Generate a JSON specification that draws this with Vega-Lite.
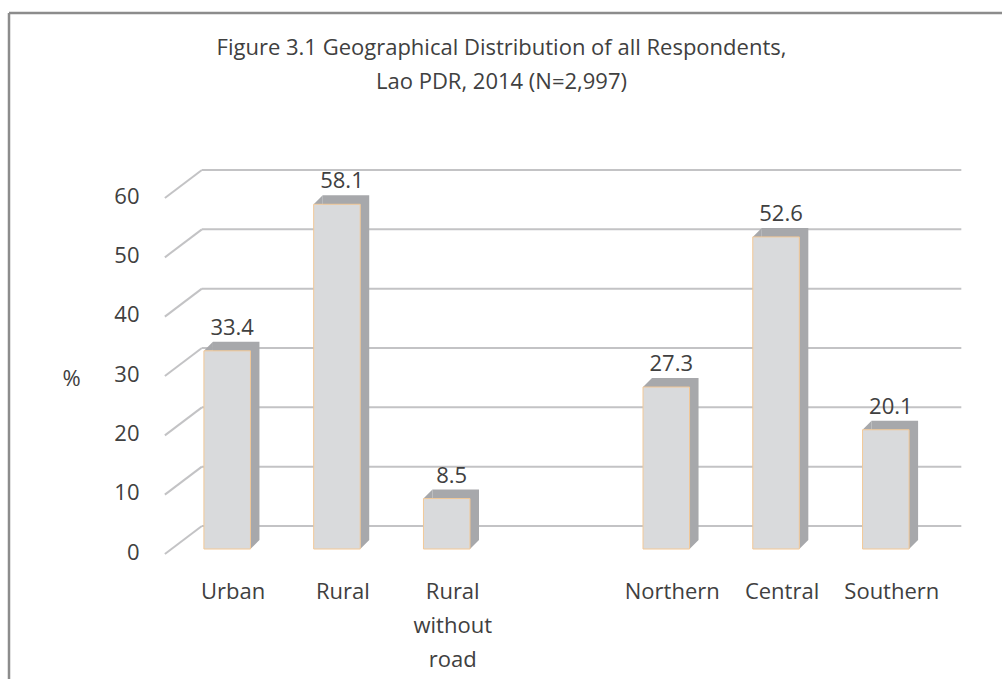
{
  "$schema": "https://vega.github.io/schema/vega-lite/v6.json",
  "width": 993,
  "height": 666,
  "autosize": {"type": "none"},
  "padding": {"left": 9, "top": 13, "right": 0, "bottom": 0},
  "background": "white",
  "title": {
    "text": ["Figure 3.1 Geographical Distribution of all Respondents,", "Lao PDR, 2014 (N=2,997)"],
    "anchor": "middle",
    "frame": "group",
    "orient": "top",
    "baseline": "top",
    "offset": -81,
    "dx": -4,
    "font": "Open Sans",
    "fontSize": 22,
    "fontWeight": "normal",
    "color": "#404040",
    "lineHeight": 34
  },
  "datasets": {
    "bars": [
      {"cat": "Urban", "v": 33.4},
      {"cat": "Rural", "v": 58.1},
      {"cat": "Rural|without|road", "v": 8.5},
      {"cat": "Northern", "v": 27.3},
      {"cat": "Central", "v": 52.6},
      {"cat": "Southern", "v": 20.1}
    ],
    "ticks": [{"t": 0}, {"t": 10}, {"t": 20}, {"t": 30}, {"t": 40}, {"t": 50}, {"t": 60}]
  },
  "layer": [
    {
      "data": {"name": "ticks"},
      "mark": {"type": "rule", "color": "#c3c3c5", "strokeWidth": 2, "xOffset": -25.3, "x2Offset": 75.5, "yOffset": -23, "y2Offset": -23},
      "encoding": {
        "x": {"datum": "Urban", "type": "nominal"},
        "x2": {"datum": "Southern"},
        "y": {"field": "t", "type": "quantitative"},
        "y2": {"field": "t"}
      }
    },
    {
      "data": {"name": "ticks"},
      "mark": {"type": "rule", "color": "#c3c3c5", "strokeWidth": 2, "xOffset": -62.3, "x2Offset": -25.3, "yOffset": 5, "y2Offset": -23},
      "encoding": {
        "x": {"datum": "Urban", "type": "nominal"},
        "x2": {"datum": "Urban"},
        "y": {"field": "t", "type": "quantitative"},
        "y2": {"field": "t"}
      }
    },
    {
      "data": {"name": "bars"},
      "mark": {"type": "bar", "color": "#a7a8ab", "xOffset": 9, "x2Offset": 9, "yOffset": -9, "y2Offset": -9},
      "encoding": {
        "x": {"field": "cat", "type": "nominal"},
        "y": {"field": "v", "type": "quantitative"}
      }
    },
    {
      "data": {"name": "bars"},
      "mark": {"type": "point", "shape": "M -1 1 L 1 -1 L 1 1 Z", "filled": true, "size": 81, "color": "#a7a8ab", "opacity": 1, "xOffset": 4.5, "yOffset": -4.5},
      "encoding": {
        "x": {"field": "cat", "type": "nominal", "bandPosition": 0},
        "y": {"field": "v", "type": "quantitative"}
      }
    },
    {
      "data": {"name": "bars"},
      "mark": {"type": "point", "shape": "M -1 -1 L 1 -1 L -1 1 Z", "filled": true, "size": 81, "color": "#a7a8ab", "opacity": 1, "xOffset": 4.5, "yOffset": -4.5},
      "encoding": {
        "x": {"field": "cat", "type": "nominal", "bandPosition": 1},
        "y": {"datum": 0, "type": "quantitative"}
      }
    },
    {
      "data": {"name": "bars"},
      "mark": {"type": "bar", "color": "#d9dadc", "stroke": "#f2c897", "strokeWidth": 1},
      "encoding": {
        "x": {
          "field": "cat",
          "type": "nominal",
          "sort": null,
          "scale": {
            "domain": ["Urban", "Rural", "Rural|without|road", " ", "Northern", "Central", "Southern"],
            "range": [151, 944],
            "paddingInner": 0.576,
            "paddingOuter": 0.4
          },
          "axis": {
            "title": null,
            "orient": "bottom",
            "offset": -130,
            "domain": false,
            "ticks": false,
            "grid": false,
            "labelAngle": 0,
            "labelAlign": "center",
            "labelPadding": 32,
            "labelOffset": 6,
            "labelFont": "Open Sans",
            "labelFontSize": 22,
            "labelColor": "#404040",
            "labelLineHeight": 34,
            "labelBaseline": "top",
            "labelExpr": "split(datum.label, '|')"
          }
        },
        "y": {
          "field": "v",
          "type": "quantitative",
          "scale": {"domain": [0, 60], "range": [536, 180], "nice": false},
          "axis": {
            "title": "%",
            "orient": "left",
            "offset": -156,
            "values": [0, 10, 20, 30, 40, 50, 60],
            "domain": false,
            "ticks": false,
            "grid": false,
            "labelPadding": 26,
            "labelOffset": 3,
            "labelFont": "Open Sans",
            "labelFontSize": 22,
            "labelColor": "#404040",
            "titleAngle": 0,
            "titleX": -94,
            "titleY": 365,
            "titleAlign": "center",
            "titleBaseline": "middle",
            "titleFont": "Open Sans",
            "titleFontSize": 22,
            "titleFontWeight": "normal",
            "titleColor": "#404040"
          }
        }
      }
    },
    {
      "data": {"name": "bars"},
      "mark": {"type": "text", "font": "Open Sans", "fontSize": 22, "color": "#404040", "baseline": "alphabetic", "align": "center", "dy": -16, "dx": 5},
      "encoding": {
        "x": {"field": "cat", "type": "nominal"},
        "y": {"field": "v", "type": "quantitative"},
        "text": {"field": "v", "type": "quantitative", "format": ".1f"}
      }
    }
  ],
  "config": {
    "view": {"stroke": "#8c8c8c", "strokeWidth": 2.5, "strokeDash": [993, 1659, 666, 0]}
  }
}
